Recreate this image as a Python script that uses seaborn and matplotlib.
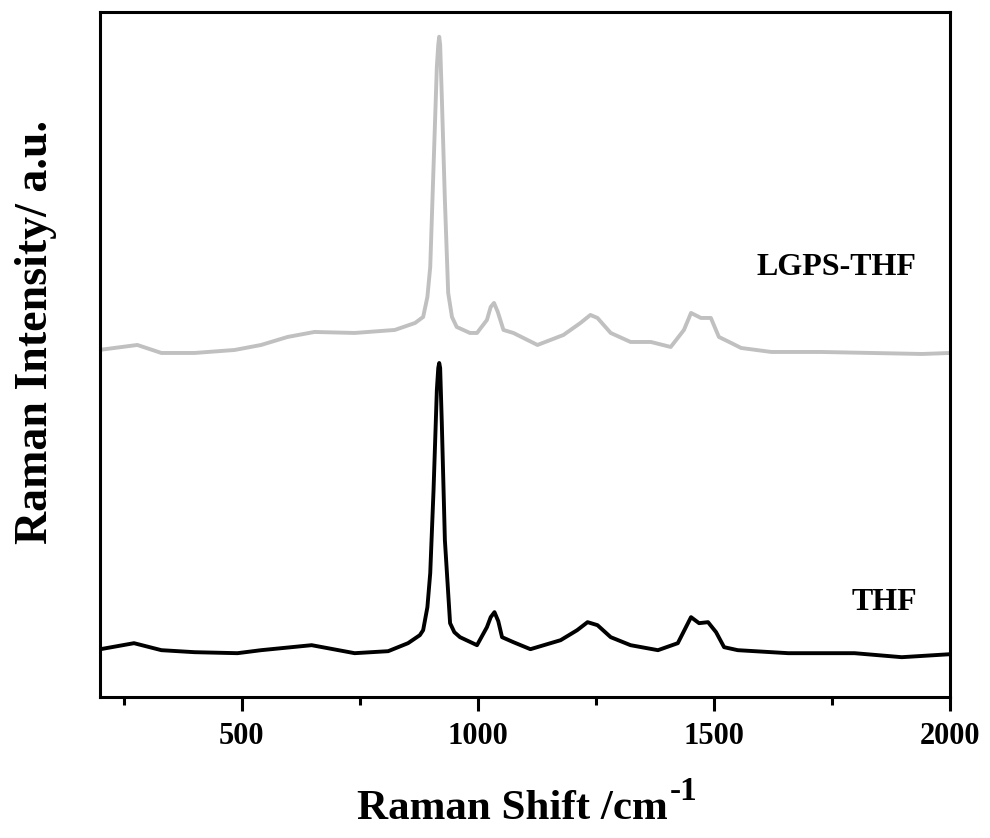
import matplotlib
matplotlib.use("Agg")
import matplotlib.pyplot as plt
from matplotlib.ticker import MultipleLocator
import seaborn as sns
import pandas as pd

# values (arbitrary intensity units)
shift_lgps = [198, 279, 330, 400, 485, 541, 597, 654, 739, 824, 867, 884, 893, 899, 906, 913,
              916, 918, 920, 923.5, 930, 937, 945, 955, 983, 998, 1019, 1027, 1034, 1042, 1054,
              1075, 1126, 1181, 1217, 1238, 1253, 1281, 1323, 1366, 1408, 1436, 1451, 1472,
              1493, 1510, 1536, 1557, 1621, 1727, 1833, 1940, 2000]
int_lgps = [347, 352, 344, 344, 347, 352, 360, 365, 364, 367, 374, 380, 400, 430, 530, 630,
            652, 660, 652, 600, 497, 404, 380, 370, 364, 364, 377, 390, 394, 385, 367,
            364, 352, 362, 374, 382, 379, 364, 355, 355, 350, 367, 384, 379,
            379, 360, 354, 349, 345, 345, 344, 343, 344]

shift_thf = [201, 272, 330, 400, 491, 541, 648, 739, 810, 852, 877, 884, 893, 899, 906, 913,
             916, 918, 920, 923.5, 930, 941, 950, 962, 998, 1019, 1027, 1035, 1043, 1051, 1075,
             1111, 1175, 1210, 1232, 1253, 1281, 1323, 1381, 1423, 1451, 1468, 1487, 1504,
             1521, 1550, 1657, 1797, 1897, 2000]
int_thf = [48, 54, 47, 45, 44, 47, 52, 44, 46, 54, 62, 67, 90, 124, 207, 307,
           329, 334, 329, 274, 157, 74, 65, 60, 52, 70, 80, 85, 76, 60, 55,
           48, 57, 67, 75, 72, 60, 52, 47, 54, 80, 74, 75, 65,
           50, 47, 44, 44, 40, 43]

sns.set_theme(style="ticks")
plt.rcParams['font.family'] = ['Liberation Serif', 'DejaVu Serif']
plt.rcParams['font.weight'] = 'bold'
plt.rcParams['text.color'] = 'black'
plt.rcParams['axes.labelcolor'] = 'black'
plt.rcParams['xtick.color'] = 'black'
plt.rcParams['xtick.labelcolor'] = 'black'

df_lgps = pd.DataFrame({'shift': shift_lgps, 'intensity': int_lgps})
df_thf = pd.DataFrame({'shift': shift_thf, 'intensity': int_thf})

fig = plt.figure(figsize=(9.9, 8.38), dpi=100)
ax = fig.add_axes([0.101, 0.168, 0.859, 0.818])

sns.lineplot(data=df_lgps, x='shift', y='intensity', color='#c0c0c0', linewidth=2.8,
             estimator=None, sort=False, ax=ax)
sns.lineplot(data=df_thf, x='shift', y='intensity', color='black', linewidth=2.8,
             estimator=None, sort=False, ax=ax)

ax.text(1929, 429, "LGPS-THF", ha='right', va='center', fontsize=23, fontweight='bold',
        color='black')
ax.text(1929, 95, "THF", ha='right', va='center', fontsize=23, fontweight='bold',
        color='black')

ax.set_xlim(200, 2000)
ax.set_ylim(0, 685)
ax.set_yticks([])
ax.xaxis.set_major_locator(MultipleLocator(500))
ax.xaxis.set_minor_locator(MultipleLocator(250))
ax.tick_params(axis='x', which='major', direction='out', length=10, width=2.2,
               labelsize=22, pad=8, color='black', labelcolor='black')
ax.tick_params(axis='x', which='minor', direction='out', length=5.5, width=2.2, color='black')
for lbl in ax.get_xticklabels():
    lbl.set_fontweight('bold')

for side in ['top', 'bottom', 'left', 'right']:
    ax.spines[side].set_visible(True)
    ax.spines[side].set_linewidth(2.2)
    ax.spines[side].set_color('black')

ax.set_xlabel("Raman Shift /cm", fontsize=31, fontweight='bold', color='black')
ax.xaxis.set_label_coords(0.485, -0.135)
ax.set_ylabel("Raman Intensity/ a.u.", fontsize=33, fontweight='bold', color='black')
ax.yaxis.set_label_coords(-0.05, 0.533)

# superscript -1 placed right after the x label
fig.canvas.draw()
bb = ax.xaxis.label.get_window_extent()
fig.text((bb.x1 + 2) / fig.bbox.width, (bb.y1 + 14) / fig.bbox.height, "-1",
         fontsize=24, fontweight='bold', ha='left', va='top', color='black')

fig.savefig("out.png", dpi=100)
